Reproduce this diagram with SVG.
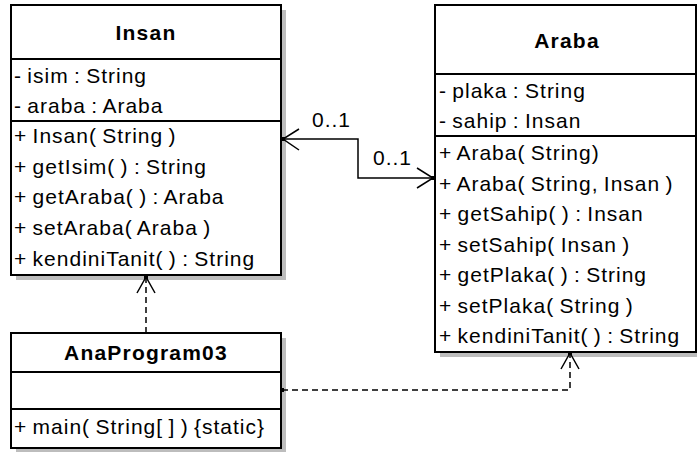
<svg xmlns="http://www.w3.org/2000/svg" width="697" height="452" viewBox="0 0 697 452">
<defs>
<style>
.shadow{fill:#bdbdbd;stroke:none}
.box{fill:#fff;stroke:#000;stroke-width:2}
.div{stroke:#000;stroke-width:1.8;fill:none}
.t{font-family:"Liberation Sans",Arial,sans-serif;font-size:21px;letter-spacing:1px;word-spacing:-1.5px;fill:#000}
.title{font-family:"Liberation Sans",Arial,sans-serif;font-size:21px;font-weight:bold;letter-spacing:1.2px;fill:#000;text-anchor:middle}
.line{stroke:#000;stroke-width:1.5;fill:none}
.dash{stroke:#000;stroke-width:1.5;fill:none;stroke-dasharray:6 4}
.dot{fill:#000}
</style>
</defs>
<rect width="697" height="452" fill="#fff"/>

<g id="Insan">
<rect class="shadow" x="16" y="10" width="270" height="270"/>
<rect class="box" x="11" y="5" width="270" height="270"/>
<line class="div" x1="11" y1="59" x2="281" y2="59"/>
<line class="div" x1="11" y1="121" x2="281" y2="121"/>
<text class="title" x="146" y="40">Insan</text>
<text class="t" x="14" y="83">- isim : String</text>
<text class="t" x="14" y="113">- araba : Araba</text>
<text class="t" x="14" y="143">+ Insan( String )</text>
<text class="t" x="14" y="174">+ getIsim( ) : String</text>
<text class="t" x="14" y="204">+ getAraba( ) : Araba</text>
<text class="t" x="14" y="235">+ setAraba( Araba )</text>
<text class="t" x="14" y="266">+ kendiniTanit( ) : String</text>
</g>

<g id="Araba">
<rect class="shadow" x="440" y="10" width="261" height="347"/>
<rect class="box" x="435" y="5" width="261" height="347"/>
<line class="div" x1="435" y1="74" x2="696" y2="74"/>
<line class="div" x1="435" y1="136" x2="696" y2="136"/>
<text class="title" x="567" y="48">Araba</text>
<text class="t" x="439" y="98">- plaka : String</text>
<text class="t" x="439" y="128">- sahip : Insan</text>
<text class="t" x="439" y="160">+ Araba( String)</text>
<text class="t" x="439" y="190.5">+ Araba( String, Insan )</text>
<text class="t" x="439" y="221">+ getSahip( ) : Insan</text>
<text class="t" x="439" y="251.5">+ setSahip( Insan )</text>
<text class="t" x="439" y="282">+ getPlaka( ) : String</text>
<text class="t" x="439" y="312.5">+ setPlaka( String )</text>
<text class="t" x="439" y="343">+ kendiniTanit( ) : String</text>
</g>

<g id="AnaProgram03">
<rect class="shadow" x="16" y="338" width="270" height="115"/>
<rect class="box" x="11" y="333" width="270" height="115"/>
<line class="div" x1="11" y1="372" x2="281" y2="372"/>
<line class="div" x1="11" y1="409" x2="281" y2="409"/>
<text class="title" x="146" y="360">AnaProgram03</text>
<text class="t" x="14" y="434">+ main( String[ ] ) {static}</text>
</g>

<g id="connectors">
<polyline class="line" points="282,139 358,139 358,178 434,178"/>
<polyline class="line" points="299,129 283,139 299,150"/>
<polyline class="line" points="417,168 433,178 417,188"/>
<rect class="dot" x="281" y="137" width="4" height="4"/>
<rect class="dot" x="431" y="176" width="4" height="4"/>
<text class="t" x="312" y="127">0..1</text>
<text class="t" x="373" y="165">0..1</text>

<line class="dash" x1="146" y1="333" x2="146" y2="278"/>
<polyline class="line" points="137,293 146,277 155,293"/>
<rect class="dot" x="144" y="275" width="4" height="4"/>

<polyline class="dash" points="282,390 570,390 570,355"/>
<polyline class="line" points="561,369 570,353 579,369"/>
<rect class="dot" x="568" y="351" width="4" height="4"/>
<rect class="dot" x="281" y="388" width="3" height="4"/>
</g>
</svg>
